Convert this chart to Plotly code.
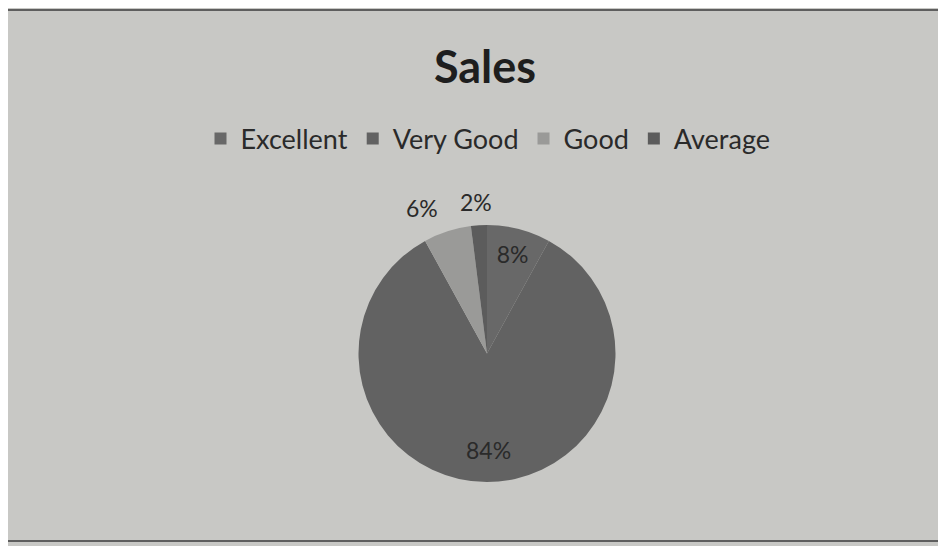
import plotly.graph_objects as go

categories = ["Excellent", "Very Good", "Good", "Average"]
values = [8, 84, 6, 2]
colors = ["#686868", "#626262", "#9a9a98", "#5c5c5c"]
text_positions = ["inside", "none", "none", "none"]

FONT = "Lato, Open Sans, sans-serif"
W, H, OFF = 946, 546, 8  # page body margin offset


def px(x):
    return (x - OFF) / W


def py(y):
    return 1 - (y - OFF) / H


fig = go.Figure(go.Pie(
    labels=categories,
    values=values,
    sort=False,
    direction="clockwise",
    rotation=0,
    marker=dict(colors=colors, line=dict(width=0)),
    textinfo="percent",
    texttemplate="%{percent:.0%}",
    textposition=text_positions,
    textfont=dict(family=FONT, size=23, color="#2a2a2a"),
    insidetextorientation="horizontal",
    domain=dict(x=[px(357), px(617)], y=[py(482), py(225)]),
    showlegend=True,
))

# labels placed as in the original (no leader lines)
ann = []
for name, x, y in [("Good", 422, 208), ("Average", 476, 202), ("Very Good", 488, 450)]:
    v = values[categories.index(name)]
    ann.append(dict(text=f"{v}%", x=px(x), y=py(y), xref="paper", yref="paper", showarrow=False,
                    xanchor="center", yanchor="middle",
                    font=dict(family=FONT, size=23, color="#2a2a2a")))

fig.update_layout(
    width=W, height=H,
    margin=dict(l=0, r=0, t=0, b=0, autoexpand=False),
    paper_bgcolor="#c8c8c5",
    plot_bgcolor="#c8c8c5",
    title=dict(text="<b>Sales</b>", x=px(485), xanchor="center", y=0.892, yanchor="middle",
               font=dict(family=FONT, size=45, color="#1e1e1e")),
    legend=dict(orientation="h", x=px(488), xanchor="center", y=0.76, yanchor="middle",
                font=dict(family=FONT, size=27, color="#2a2a2a"),
                bgcolor="rgba(0,0,0,0)", itemwidth=30),
    annotations=ann,
    shapes=[dict(type="rect", xref="paper", yref="paper", x0=px(5), x1=1.02, y0=py(541), y1=py(10),
                 line=dict(color="#5e5e5e", width=2), fillcolor="rgba(0,0,0,0)")],
)

fig.write_html("out.html")
